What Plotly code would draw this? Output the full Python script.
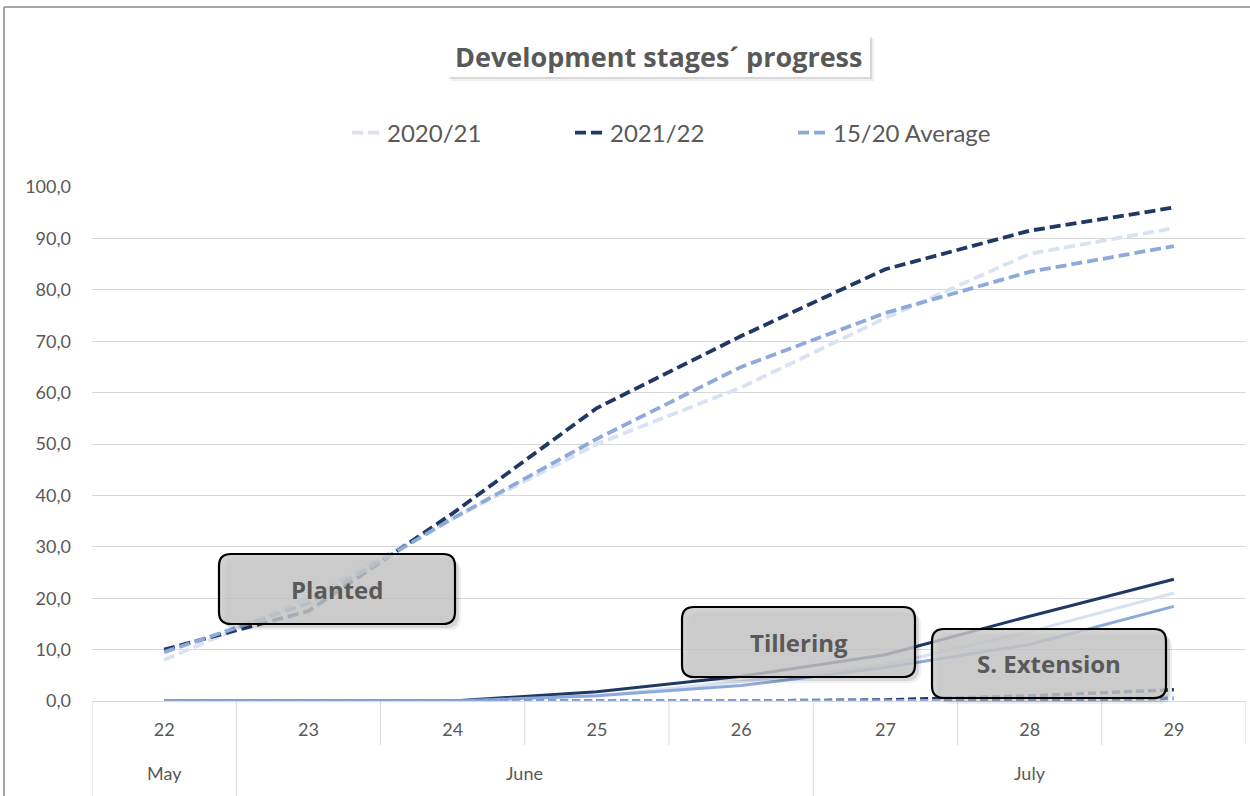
import plotly.graph_objects as go

# ---------------- data ----------------
days = ["22", "23", "24", "25", "26", "27", "28", "29"]
months = ["May", "June", "June", "June", "June", "July", "July", "July"]

planted_2021 = [8.0, 20.0, 35.5, 50.0, 61.0, 74.5, 87.0, 92.0]
planted_2122 = [10.0, 17.5, 36.5, 57.0, 71.0, 84.0, 91.5, 96.0]
planted_avg = [9.5, 19.0, 35.5, 51.0, 65.0, 75.5, 83.5, 88.5]

tiller_2021 = [0.0, 0.0, 0.0, 1.0, 3.8, 7.0, 13.5, 21.0]
tiller_2122 = [0.0, 0.0, 0.0, 1.8, 4.8, 9.0, 16.5, 23.7]
tiller_avg = [0.0, 0.0, 0.0, 1.0, 3.0, 6.5, 11.0, 18.4]

ext_2021 = [0.0, 0.0, 0.0, 0.0, 0.0, 0.0, 0.3, 0.8]
ext_2122 = [0.0, 0.0, 0.0, 0.0, 0.0, 0.2, 1.0, 2.2]
ext_avg = [0.0, 0.0, 0.0, 0.0, 0.0, 0.0, 0.2, 0.5]

series_names = ["2020/21", "2021/22", "15/20 Average"]
y_ticks = [0, 10, 20, 30, 40, 50, 60, 70, 80, 90, 100]

title_text = "Development stages\u00b4 progress"
stage_labels = ["Planted", "Tillering", "S. Extension"]

# ---------------- styling ----------------
C_LIGHT = "#d9e2f3"
C_DARK = "#1f3864"
C_AVG = "#8eaadb"
TXT = "#595959"
GRID = "#d9d9d9"
FONT = "Lato"
BFONT = "Open Sans"

W, H = 1250, 796
L, R, T, B = 92, 1246, 187, 701


def px2x(px):
    return (px - L) / (R - L)


def py2y(py):
    return (B - py) / (B - T)


def rrect(x0, y0, x1, y1, r):
    """rounded rectangle path in paper coords from a pixel box"""
    X0, X1 = px2x(x0), px2x(x1)
    Y0, Y1 = py2y(y0), py2y(y1)
    rx = r / (R - L)
    ry = r / (B - T)
    return (
        f"M {X0 + rx},{Y0} L {X1 - rx},{Y0} Q {X1},{Y0} {X1},{Y0 - ry} "
        f"L {X1},{Y1 + ry} Q {X1},{Y1} {X1 - rx},{Y1} "
        f"L {X0 + rx},{Y1} Q {X0},{Y1} {X0},{Y1 + ry} "
        f"L {X0},{Y0 - ry} Q {X0},{Y0} {X0 + rx},{Y0} Z"
    )


fig = go.Figure()

dash = "11px,5px"
for name, ys, col in zip(series_names, [planted_2021, planted_2122, planted_avg], [C_LIGHT, C_DARK, C_AVG]):
    fig.add_trace(go.Scatter(x=days, y=ys, name=name, mode="lines",
                             line=dict(color=col, width=3.8, dash=dash)))

for ys, col in zip([tiller_2021, tiller_2122, tiller_avg], [C_LIGHT, C_DARK, C_AVG]):
    fig.add_trace(go.Scatter(x=days, y=ys, mode="lines", showlegend=False,
                             line=dict(color=col, width=3)))

for ys, col in zip([ext_2021, ext_2122, ext_avg], [C_LIGHT, C_DARK, C_AVG]):
    fig.add_trace(go.Scatter(x=days, y=ys, mode="lines", showlegend=False,
                             line=dict(color=col, width=3.5, dash="8px,4px")))

shapes = []
annotations = []

# outer chart border (top & left visible)
shapes.append(dict(type="line", xref="paper", yref="paper", x0=px2x(4), x1=px2x(1252),
                   y0=py2y(7), y1=py2y(7), line=dict(color="#a6a6a6", width=2)))
shapes.append(dict(type="line", xref="paper", yref="paper", x0=px2x(4), x1=px2x(4),
                   y0=py2y(7), y1=py2y(800), line=dict(color="#a6a6a6", width=2)))

# category separators and month groups on the x axis
n = len(days)
groups = []
start = 0
for i in range(1, n + 1):
    if i == n or months[i] != months[start]:
        groups.append((months[start], start, i - 1))
        start = i
group_edges = {g[1] - 0.5 for g in groups} | {groups[-1][2] + 0.5}
for i in range(n + 1):
    b = i - 0.5
    full = b in group_edges and b < n - 0.5
    shapes.append(dict(type="line", xref="x", yref="paper", x0=b, x1=b,
                       y0=0, y1=py2y(800 if full else 745),
                       line=dict(color=GRID, width=1)))
for name, a, z in groups:
    annotations.append(dict(text=name, xref="x", yref="paper", x=(a + z) / 2, y=py2y(773),
                            xanchor="center", yanchor="middle", showarrow=False,
                            font=dict(family=FONT, size=18, color=TXT)))

# title box with shadow
for off, op in [(4, 0.06), (2, 0.10)]:
    shapes.append(dict(type="rect", xref="paper", yref="paper", layer="above",
                       x0=px2x(447 + off), x1=px2x(870 + off), y0=py2y(35 + off), y1=py2y(77 + off),
                       fillcolor=f"rgba(0,0,0,{op})", line=dict(width=0)))
shapes.append(dict(type="rect", xref="paper", yref="paper", layer="above",
                   x0=px2x(447), x1=px2x(870), y0=py2y(35), y1=py2y(77),
                   fillcolor="white", line=dict(width=0)))
annotations.append(dict(text=f"<b>{title_text}</b>", xref="paper", yref="paper",
                        x=px2x(658), y=py2y(56), xanchor="center", yanchor="middle", showarrow=False,
                        font=dict(family=BFONT, size=27, color=TXT)))

# stage label boxes
boxes = [(219, 554, 455, 624), (682, 607, 915, 677), (932, 629, 1166, 698)]
for (x0, y0, x1, y1), lab in zip(boxes, stage_labels):
    for off, op in [(6, 0.06), (4, 0.10)]:
        shapes.append(dict(type="path", xref="paper", yref="paper", layer="above",
                           path=rrect(x0 + off, y0 + off, x1 + off, y1 + off, 12),
                           fillcolor=f"rgba(0,0,0,{op})", line=dict(width=0)))
    shapes.append(dict(type="path", xref="paper", yref="paper", layer="above",
                       path=rrect(x0, y0, x1, y1, 12),
                       fillcolor="rgba(200,200,200,0.82)", line=dict(color="black", width=2.2)))
    annotations.append(dict(text=f"<b>{lab}</b>", xref="paper", yref="paper",
                            x=px2x((x0 + x1) / 2), y=py2y((y0 + y1) / 2),
                            xanchor="center", yanchor="middle", showarrow=False,
                            font=dict(family=BFONT, size=24, color=TXT)))

fig.update_layout(
    width=W, height=H,
    margin=dict(l=L, r=W - R, t=T, b=H - B, pad=0),
    paper_bgcolor="white", plot_bgcolor="white",
    separators=",.",
    font=dict(family=FONT, color=TXT),
    showlegend=True,
    legend=dict(orientation="h", x=px2x(347), y=py2y(133), xanchor="left", yanchor="middle",
                font=dict(family=FONT, size=24, color=TXT),
                entrywidth=178, entrywidthmode="pixels", bgcolor="rgba(0,0,0,0)"),
    xaxis=dict(type="category", range=[-0.5, n - 0.5], showgrid=False, showline=True,
               linecolor=GRID, ticks="", ticklabelstandoff=12,
               tickfont=dict(family=FONT, size=18, color=TXT), zeroline=False),
    yaxis=dict(range=[0, 100], tickvals=y_ticks, tickformat=".1f", showgrid=True,
               gridcolor=GRID, gridwidth=1, zeroline=False, showline=False,
               ticklabelstandoff=20,
               tickfont=dict(family=FONT, size=18, color=TXT)),
    shapes=shapes,
    annotations=annotations,
    hovermode=False,
)

fig.write_html("out.html", config={"displayModeBar": False},
               post_script="document.body.style.margin='0';document.body.style.overflow='hidden';")
